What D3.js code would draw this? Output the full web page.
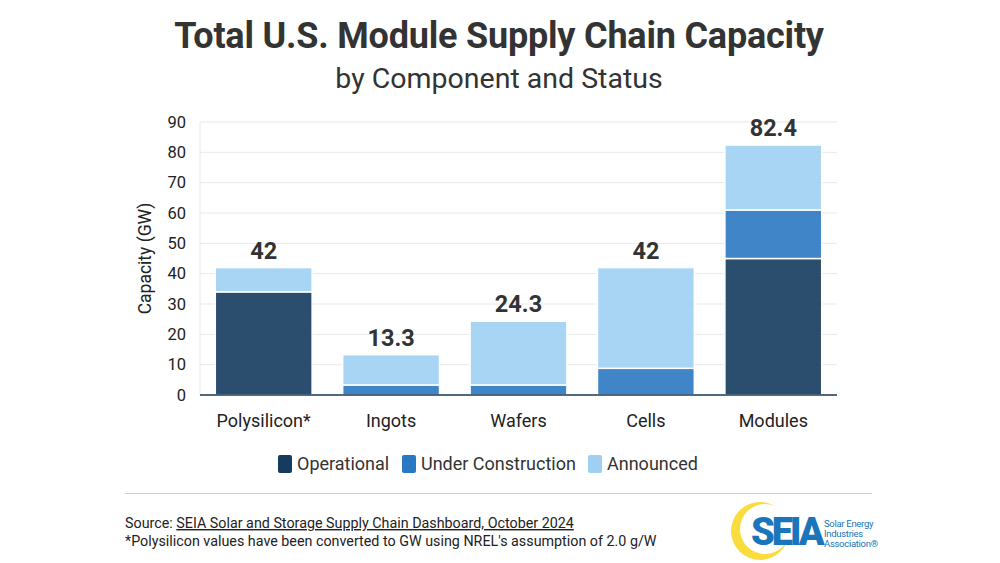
<!DOCTYPE html>
<html>
<head>
<meta charset="utf-8">
<script src="https://cdn.jsdelivr.net/npm/d3@7"></script>
<style>
  body { margin: 0; background: #fff; }
  text { font-family: Roboto, "Noto Sans", sans-serif; }
</style>
</head>
<body>
<div id="chart"></div>
<script>
// data
var categories = ["Polysilicon*", "Ingots", "Wafers", "Cells", "Modules"]
var operational = [34, 0, 0, 0, 45]
var underConstruction = [0, 3.3, 3.3, 8.8, 16]
var announced = [8, 10, 21, 33.2, 21.4]
var totals = ["42", "13.3", "24.3", "42", "82.4"]
var yTicks = [0, 10, 20, 30, 40, 50, 60, 70, 80, 90]
var seriesNames = ["Operational", "Under Construction", "Announced"]
var seriesColors = ["#153b5e", "#2a78c2", "#9fd0f2"]

var width = 1000, height = 563
var margin = {left: 200, right: 163, top: 122, bottom: 168}

var svg = d3.select("#chart")
    .append("svg")
    .attr("width", width)
    .attr("height", height)

// titles
svg.append("text")
    .attr("x", 499).attr("y", 48)
    .attr("text-anchor", "middle")
    .style("font-size", "36px").style("font-weight", "bold")
    .style("letter-spacing", "-0.2px")
    .attr("fill", "#333")
    .text("Total U.S. Module Supply Chain Capacity")

svg.append("text")
    .attr("x", 499).attr("y", 88)
    .attr("text-anchor", "middle")
    .style("font-size", "28.5px")
    .attr("fill", "#333")
    .text("by Component and Status")

var x = d3.scaleBand()
    .domain(categories)
    .range([margin.left, width - margin.right])
    .paddingInner(0.24)
    .paddingOuter(0.12)

var y = d3.scaleLinear()
    .domain([0, 90])
    .range([height - margin.bottom, margin.top])

// gridlines
svg.append("g")
    .selectAll("line")
    .data(yTicks)
    .join("line")
    .attr("x1", margin.left).attr("x2", width - margin.right)
    .attr("y1", d => y(d)).attr("y2", d => y(d))
    .attr("stroke", "#e9e9e9")

svg.append("line")
    .attr("x1", margin.left).attr("x2", margin.left)
    .attr("y1", y(90)).attr("y2", y(0))
    .attr("stroke", "#e9e9e9")

// y axis
var yAxis = svg.append("g")
    .attr("transform", "translate(" + (margin.left - 14) + ",0)")
    .call(d3.axisLeft(y).tickValues(yTicks).tickSize(0).tickPadding(0))
yAxis.select(".domain").remove()
yAxis.selectAll("text")
    .style("font-size", "16.5px")
    .attr("fill", "#222")

svg.append("text")
    .attr("transform", "translate(151," + y(45) + ") rotate(-90)")
    .attr("text-anchor", "middle")
    .style("font-size", "17.5px")
    .attr("fill", "#222")
    .text("Capacity (GW)")

// stacked bars
var rows = categories.map(function(c, i) {
    return {cat: c, op: operational[i], uc: underConstruction[i], an: announced[i]}
})
var stack = d3.stack().keys(["op", "uc", "an"])
var layers = stack(rows)

svg.append("g")
    .selectAll("g")
    .data(layers)
    .join("g")
    .attr("fill", (d, i) => seriesColors[i])
    .attr("fill-opacity", 0.9)
    .selectAll("rect")
    .data(d => d.filter(s => s[1] - s[0] > 0))
    .join("rect")
    .attr("x", d => x(d.data.cat))
    .attr("width", x.bandwidth())
    .attr("y", d => y(d[1]))
    .attr("height", d => y(d[0]) - y(d[1]))
    .attr("stroke", "#fff")
    .attr("stroke-width", 1.5)

// baseline
svg.append("line")
    .attr("x1", margin.left).attr("x2", width - margin.right)
    .attr("y1", y(0)).attr("y2", y(0))
    .attr("stroke", "#1d3a55")
    .attr("stroke-width", 1.5)

// totals
svg.append("g")
    .selectAll("text")
    .data(categories)
    .join("text")
    .attr("x", d => x(d) + x.bandwidth() / 2)
    .attr("y", (d, i) => y(operational[i] + underConstruction[i] + announced[i]) - 9)
    .attr("text-anchor", "middle")
    .style("font-size", "23.5px").style("font-weight", "bold")
    .attr("fill", "#333")
    .text((d, i) => totals[i])

// category labels
svg.append("g")
    .selectAll("text")
    .data(categories)
    .join("text")
    .attr("x", d => x(d) + x.bandwidth() / 2)
    .attr("y", 427)
    .attr("text-anchor", "middle")
    .style("font-size", "18px")
    .attr("fill", "#222")
    .text(d => d)

// legend
var legendX = [278, 402, 588]
var legend = svg.append("g")
    .selectAll("g")
    .data(seriesNames)
    .join("g")
    .attr("transform", (d, i) => "translate(" + legendX[i] + ",455)")
legend.append("rect")
    .attr("width", 14).attr("height", 18)
    .attr("rx", 2)
    .attr("fill", (d, i) => seriesColors[i])
legend.append("text")
    .attr("x", 19).attr("y", 15)
    .style("font-size", "18px")
    .attr("fill", "#333")
    .text(d => d)

// footer
svg.append("line")
    .attr("x1", 125).attr("x2", 872)
    .attr("y1", 493.5).attr("y2", 493.5)
    .attr("stroke", "#d0d0d0")

var src = svg.append("text")
    .attr("x", 125).attr("y", 528)
    .style("font-size", "14.3px")
    .attr("fill", "#222")
src.append("tspan").text("Source: ")
src.append("tspan")
    .style("text-decoration", "underline")
    .text("SEIA Solar and Storage Supply Chain Dashboard, October 2024")

svg.append("text")
    .attr("x", 125).attr("y", 546)
    .style("font-size", "14.3px")
    .attr("fill", "#222")
    .text("*Polysilicon values have been converted to GW using NREL's assumption of 2.0 g/W")

// SEIA logo: yellow crescent, wordmark, tagline
var logo = svg.append("g")
logo.append("circle")
    .attr("cx", 760).attr("cy", 531).attr("r", 29)
    .attr("fill", "#f9dd3f")
logo.append("circle")
    .attr("cx", 765).attr("cy", 529).attr("r", 25)
    .attr("fill", "#fff")
logo.append("text")
    .attr("x", 751).attr("y", 545)
    .style("font-size", "38px").style("font-weight", "900")
    .style("letter-spacing", "-3px")
    .attr("fill", "#1b75bb")
    .text("SEIA")
var tag = ["Solar Energy", "Industries", "Association®"]
logo.append("g")
    .selectAll("text")
    .data(tag)
    .join("text")
    .attr("x", 824).attr("y", (d, i) => 527 + i * 10)
    .style("font-size", "9.5px")
    .style("letter-spacing", "-0.3px")
    .attr("fill", "#1b75bb")
    .text(d => d)
</script>
</body>
</html>
